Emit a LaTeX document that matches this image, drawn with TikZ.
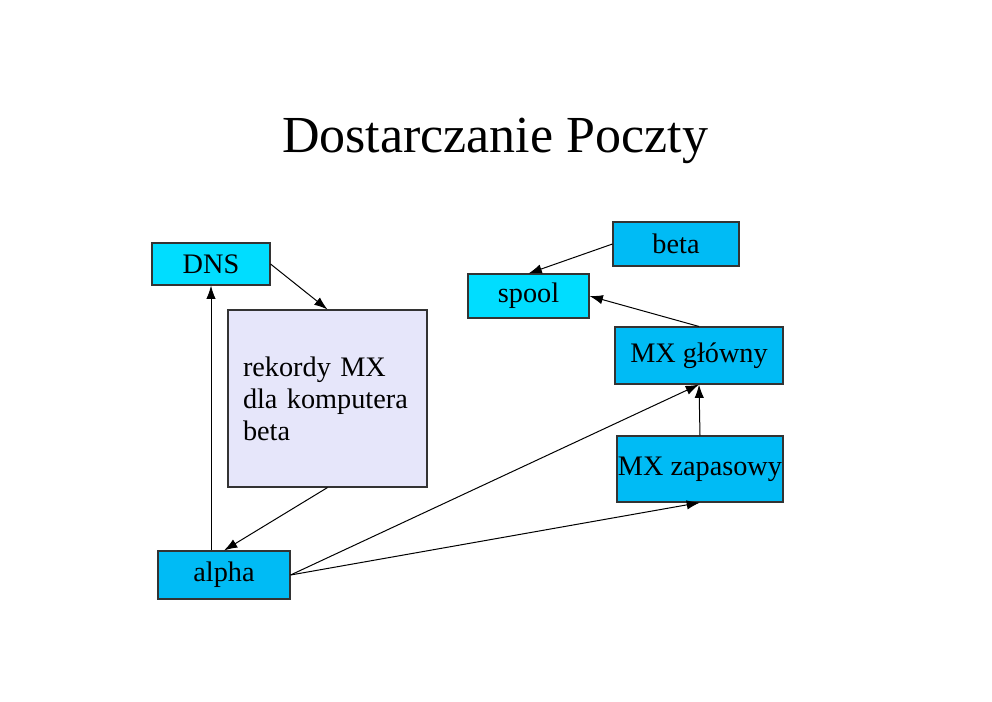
\documentclass[tikz,border=0pt]{standalone}
\usepackage{fontspec}
\setmainfont{Liberation Serif}
\usepackage{xcolor}
\usepackage{tikz}
\usetikzlibrary{arrows.meta, positioning, calc}
\definecolor{jasnycyjan}{HTML}{00DDFF}
\definecolor{niebieski}{HTML}{00BBF5}
\definecolor{lawenda}{HTML}{E6E6FA}
\definecolor{ramka}{HTML}{333333}

\begin{document}
\begin{tikzpicture}[x=0.75pt, y=-0.75pt,
    box/.style={draw=ramka, line width=0.8pt, rectangle, inner sep=0pt, font=\fontsize{21.2}{24}\selectfont},
    jasny/.style={box, fill=jasnycyjan},
    ciemny/.style={box, fill=niebieski},
    strzalka/.style={-{Latex[length=10pt, width=7pt]}, line width=0.75pt, black}]
    \useasboundingbox (0,0) rectangle (992,701);
    % Title
    \node (tytul) at (495,141) {\fontsize{39}{45}\selectfont Dostarczanie Poczty};
    % Boxes
    \node[jasny, minimum width=88.5pt, minimum height=31.5pt] (dns) at (211,264) {DNS};
    \node[box, fill=lawenda, minimum width=149.25pt, minimum height=132.75pt,
          text width=126.75pt, align=left] (rekordy) at (327.5,398.5)
          {rekordy MX\\dla komputera\\beta};
    \node[ciemny, minimum width=99pt, minimum height=36pt] (alpha) at (224,575) {alpha};
    \node[ciemny, minimum width=94.5pt, minimum height=33pt] (beta) at (676,244) {beta};
    \node[jasny, minimum width=90.75pt, minimum height=33pt] (spool) at (528.5,296) {spool};
    \node[ciemny, minimum width=126pt, minimum height=42.75pt] (mxglowny) at (699,355.5) {MX główny};
    \node[ciemny, minimum width=124.5pt, minimum height=49.5pt] (mxzapas) at (700,469) {MX zapasowy};
    % Connectors
    \draw[strzalka] (dns.east) -- (rekordy.north);
    \draw[strzalka] (rekordy.south) -- (alpha.north);
    \draw[strzalka] (alpha.north -| dns.south) -- (dns.south);
    \draw[strzalka] (beta.west) -- (spool.north);
    \draw[strzalka] (mxglowny.north) -- (spool.east);
    \draw[strzalka] (mxzapas.north) -- (mxglowny.south);
    \draw[strzalka] (alpha.east) -- (mxglowny.south);
    \draw[strzalka] (alpha.east) -- (mxzapas.south);
\end{tikzpicture}
\end{document}
